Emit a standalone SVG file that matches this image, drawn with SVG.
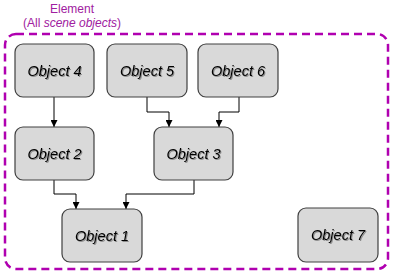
<svg xmlns="http://www.w3.org/2000/svg" width="394" height="274" viewBox="0 0 394 274">
<style>
.node rect{fill:#d9d9d9;stroke:#404040;stroke-width:1.2}
.node text{font-family:"Liberation Sans",Arial,sans-serif;font-size:14.5px;font-style:italic;fill:#000;text-anchor:middle;filter:url(#sh)}
.conn path{fill:none;stroke:#000;stroke-width:1;marker-end:url(#ah)}
.lbl{font-family:"Liberation Sans",Arial,sans-serif;font-size:12px;fill:#a020a0;text-anchor:middle}
</style>
<defs>
<marker id="ah" viewBox="0 0 10 10" refX="10" refY="5" markerWidth="7" markerHeight="7" markerUnits="userSpaceOnUse" orient="auto">
<path d="M0,0 L10,5 L0,10 z" fill="#000"/>
</marker>
<filter id="sh" x="-10%" y="-20%" width="130%" height="150%">
<feDropShadow dx="1" dy="1" stdDeviation="0.6" flood-color="#000" flood-opacity="0.35"/>
</filter>
</defs>
<rect x="5" y="34" width="383" height="235" rx="11" fill="none" stroke="#b000b0" stroke-width="2.5" stroke-dasharray="8,5"/>
<text class="lbl" x="72" y="13">Element</text>
<text class="lbl" x="72" y="27">(All <tspan font-style="italic">scene objects</tspan>)</text>
<g class="conn">
<path d="M54,97 V127"/>
<path d="M147,97 V112 H169 V127"/>
<path d="M239,97 V112 H219 V127"/>
<path d="M54,180 V194 H76 V209"/>
<path d="M194,180 V194 H126 V209"/>
</g>
<g id="obj4" class="node"><rect x="15" y="44" width="79" height="53" rx="8"/><text x="54.5" y="75.5">Object 4</text></g>
<g id="obj5" class="node"><rect x="107" y="44" width="80" height="53" rx="8"/><text x="147" y="75.5">Object 5</text></g>
<g id="obj6" class="node"><rect x="198" y="44" width="80" height="53" rx="8"/><text x="238" y="75.5">Object 6</text></g>
<g id="obj2" class="node"><rect x="15" y="127" width="79" height="53" rx="8"/><text x="54.5" y="158.5">Object 2</text></g>
<g id="obj3" class="node"><rect x="154" y="127" width="79" height="53" rx="8"/><text x="193.5" y="158.5">Object 3</text></g>
<g id="obj1" class="node"><rect x="62" y="209" width="80" height="53" rx="8"/><text x="102" y="240.5">Object 1</text></g>
<g id="obj7" class="node"><rect x="298" y="208" width="80" height="54" rx="8"/><text x="338" y="240">Object 7</text></g>
</svg>
